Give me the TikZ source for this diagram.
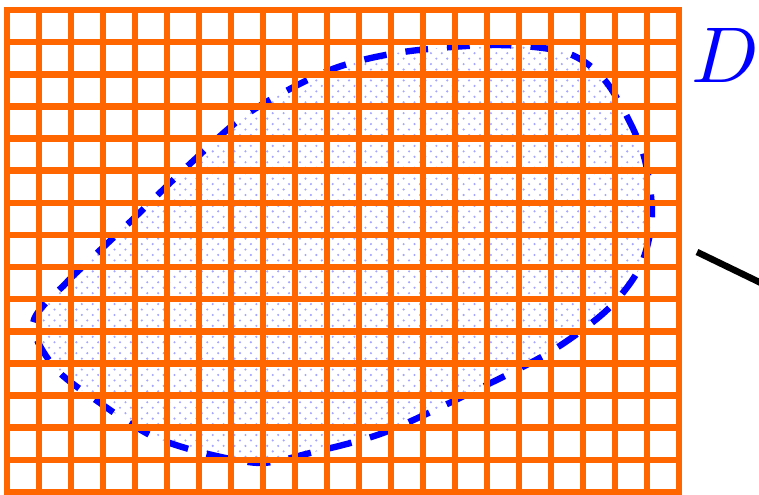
\documentclass[tikz,border=0pt]{standalone}
\usetikzlibrary{patterns}
\definecolor{gridorange}{RGB}{255,102,0}
\pgfdeclarepatternformonly{regiondots}{\pgfqpoint{-1pt}{-1pt}}{\pgfqpoint{7pt}{7pt}}{\pgfqpoint{6pt}{6pt}}{%
  \pgfpathcircle{\pgfpointorigin}{0.65pt}%
  \pgfpathcircle{\pgfqpoint{3pt}{3pt}}{0.65pt}%
  \pgfusepath{fill}}
\begin{document}
\begin{tikzpicture}[x=0.55pt,y=-0.55pt,
  gridline/.style={draw=gridorange,line width=3.6pt,line cap=rect},
  region/.style={draw=blue,line width=3.5pt,dash pattern=on 12.5pt off 10.5pt,
    pattern=regiondots,pattern color=blue!35},
  pointer/.style={draw=black,line width=3.6pt}]
\useasboundingbox (0,0) rectangle (759,495);
\clip (0,0) rectangle (759,495);
\path[region] plot[smooth cycle] coordinates {
  (33,323) (67,282) (130,222) (192,162) (250,112) (330,70) (403,52)
  (497,45) (567,53) (607,83) (642,150) (652,215) (640,267) (607,310)
  (550,352) (470,393) (383,433) (310,453) (260,463) (200,452) (150,435)
  (100,403) (55,368)};
\foreach \i in {0,...,21} \draw[gridline] ({7+32*\i},10) -- ({7+32*\i},492);
\foreach \j in {0,...,15} \draw[gridline] (7,{10+32.13*\j}) -- (679,{10+32.13*\j});
\node[text=blue,scale=4.35] (D) at (725,55) {$D$};
\coordinate (ptrA) at (697,252);
\coordinate (ptrB) at (790,297);
\draw[pointer] (ptrA) -- (ptrB);
\end{tikzpicture}
\end{document}
